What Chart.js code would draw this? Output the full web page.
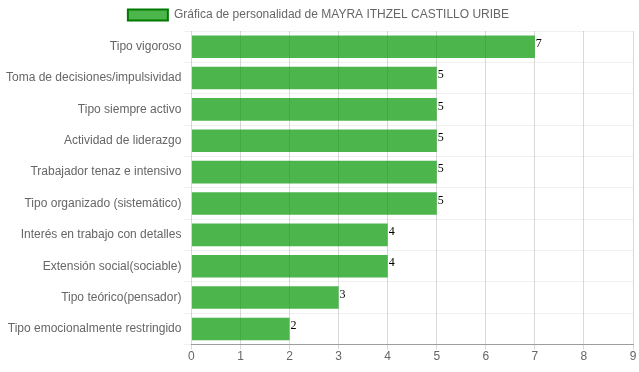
<!DOCTYPE html>
<html>
<head>
<meta charset="utf-8">
<script src="https://cdn.jsdelivr.net/npm/chart.js@4/dist/chart.umd.min.js"></script>
<style>
  html, body { margin: 0; padding: 0; background: #fff; }
  #wrap { width: 639px; height: 372px; }
</style>
</head>
<body>
<div id="wrap"><canvas id="grafica"></canvas></div>
<script>
// categorias y valores de la grafica
const categorias = [
    'Tipo vigoroso',
    'Toma de decisiones/impulsividad',
    'Tipo siempre activo',
    'Actividad de liderazgo',
    'Trabajador tenaz e intensivo',
    'Tipo organizado (sistemático)',
    'Interés en trabajo con detalles',
    'Extensión social(sociable)',
    'Tipo teórico(pensador)',
    'Tipo emocionalmente restringido'
];
const valores = [7, 5, 5, 5, 5, 5, 4, 4, 3, 2];
const titulo = 'Gráfica de personalidad de MAYRA ITHZEL CASTILLO URIBE';
const ejeMax = 9;

Chart.defaults.font.family = '"Liberation Sans", Arial, sans-serif';
Chart.defaults.font.size = 12;
Chart.defaults.color = '#666';

// dibuja el valor al final de cada barra
const etiquetas = {
    id: 'etiquetas',
    afterDatasetsDraw(chart) {
        const ctx = chart.ctx;
        ctx.save();
        ctx.font = '12px "Liberation Serif", "Times New Roman", serif';
        ctx.fillStyle = '#000';
        ctx.textAlign = 'left';
        ctx.textBaseline = 'middle';
        chart.getDatasetMeta(0).data.forEach((bar, i) => {
            ctx.fillText(valores[i], bar.x + 1, bar.y - 3);
        });
        ctx.restore();
    }
};

new Chart(document.getElementById('grafica'), {
    type: 'bar',
    data: {
        labels: categorias,
        datasets: [{
            label: titulo,
            data: valores,
            backgroundColor: 'rgba(0, 150, 0, 0.7)',
            borderWidth: 0
        }]
    },
    options: {
        indexAxis: 'y',
        responsive: true,
        maintainAspectRatio: false,
        animation: false,
        layout: { padding: { left: 4, right: 6, top: 0, bottom: 8 } },
        plugins: {
            legend: {
                labels: {
                    boxWidth: 40,
                    boxHeight: 11,
                    padding: 9,
                    generateLabels() {
                        return [{
                            text: titulo,
                            fillStyle: 'rgba(0, 150, 0, 0.7)',
                            strokeStyle: '#007a00',
                            lineWidth: 2,
                            fontColor: '#666'
                        }];
                    }
                }
            },
            tooltip: { enabled: false }
        },
        scales: {
            x: {
                min: 0,
                max: ejeMax,
                ticks: { stepSize: 1, padding: 0 },
                grid: { color: 'rgba(0,0,0,0.15)', tickLength: 5 },
                border: { color: 'rgba(0,0,0,0.35)' }
            },
            y: {
                ticks: { padding: 2 },
                grid: { color: 'rgba(0,0,0,0.06)', offset: true, tickLength: 8 },
                border: { display: false }
            }
        }
    },
    plugins: [etiquetas]
});
</script>
</body>
</html>
